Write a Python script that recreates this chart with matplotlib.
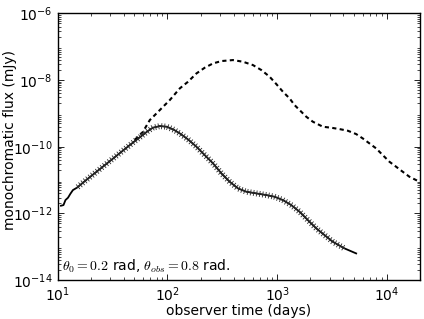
import numpy as np
import matplotlib
matplotlib.use('Agg')
import matplotlib.pyplot as plt
from matplotlib import patheffects

plt.rcParams['mathtext.fontset'] = 'cm'
plt.rcParams['font.family'] = 'DejaVu Sans'
plt.rcParams['font.size'] = 10

# values, as log10(t / days) and log10(F / mJy)
# on-axis light curve (solid, with ticks)
log_t_solid = [1.030, 1.053, 1.071, 1.094, 1.116, 1.139, 1.175, 1.248, 1.339,
               1.430, 1.521, 1.612, 1.703, 1.766, 1.821, 1.866, 1.930, 1.994,
               2.057, 2.112, 2.187, 2.264, 2.339, 2.415, 2.491, 2.566, 2.642,
               2.718, 2.809, 2.900, 2.975, 3.051, 3.127, 3.203, 3.278, 3.355,
               3.430, 3.505, 3.612, 3.718]
log_f_solid = [-11.77, -11.75, -11.60, -11.53, -11.41, -11.30, -11.23, -11.03,
               -10.79, -10.55, -10.31, -10.07, -9.83, -9.67, -9.53, -9.43,
               -9.38, -9.40, -9.49, -9.60, -9.78, -10.00, -10.25, -10.50,
               -10.80, -11.05, -11.25, -11.35, -11.40, -11.45, -11.50, -11.60,
               -11.75, -11.95, -12.20, -12.45, -12.65, -12.85, -13.05, -13.20]

# off-axis observer (dashed)
log_t_dash = [1.703, 1.775, 1.839, 1.900, 1.960, 2.021, 2.112, 2.187, 2.264,
              2.339, 2.415, 2.491, 2.596, 2.687, 2.778, 2.855, 2.930, 2.991,
              3.051, 3.112, 3.157, 3.203, 3.264, 3.324, 3.415, 3.491, 3.566,
              3.642, 3.718, 3.778, 3.839, 3.900, 3.960, 4.021, 4.082, 4.142,
              4.203, 4.294]
log_f_dash = [-9.79, -9.56, -9.20, -9.00, -8.80, -8.60, -8.25, -8.05, -7.80,
              -7.63, -7.50, -7.43, -7.40, -7.45, -7.55, -7.70, -7.90, -8.12,
              -8.35, -8.55, -8.75, -8.90, -9.10, -9.25, -9.40, -9.43, -9.47,
              -9.52, -9.62, -9.75, -9.90, -10.05, -10.25, -10.45, -10.60,
              -10.75, -10.90, -11.05]

t_solid = 10.0 ** np.array(log_t_solid)
f_solid = 10.0 ** np.array(log_f_solid)
t_dash = 10.0 ** np.array(log_t_dash)
f_dash = 10.0 ** np.array(log_f_dash)
marked = (t_solid >= 14.5) & (t_solid <= 4100)

fig = plt.figure(figsize=(4.24, 3.19), dpi=100)
ax = fig.add_axes([0.136, 0.122, 0.855, 0.836])

ax.plot(t_dash, f_dash, 'k--', lw=1.5, dashes=(2.0, 1.6))
ax.plot(t_solid, f_solid, 'k-', lw=1.3)
ticks = [patheffects.withTickedStroke(angle=90, spacing=2.2, length=0.85),
         patheffects.withTickedStroke(angle=-90, spacing=2.2, length=0.85)]
ax.plot(t_solid[marked], f_solid[marked], color='0.15', lw=0.6, path_effects=ticks)

ax.set_xscale('log')
ax.set_yscale('log')
ax.set_xlim(10, 2e4)
ax.set_ylim(1e-14, 1e-6)
ax.set_yticks([1e-14, 1e-12, 1e-10, 1e-8, 1e-6])
ax.tick_params(which='both', direction='in', top=True, right=True)
ax.tick_params(which='major', length=4, width=0.6, labelsize=10)
ax.tick_params(which='minor', length=2, width=0.5)
for s in ax.spines.values():
    s.set_linewidth(1.0)

ax.set_xlabel('observer time (days)', labelpad=0)
ax.set_ylabel('monochromatic flux (mJy)')
ax.yaxis.set_label_coords(-0.112, 0.525)
ax.text(0.012, 0.018, r'$\theta_0=0.2$ rad, $\theta_{obs}=0.8$ rad.',
        transform=ax.transAxes, ha='left', va='bottom', fontsize=10)

fig.savefig('out.png', dpi=100)
